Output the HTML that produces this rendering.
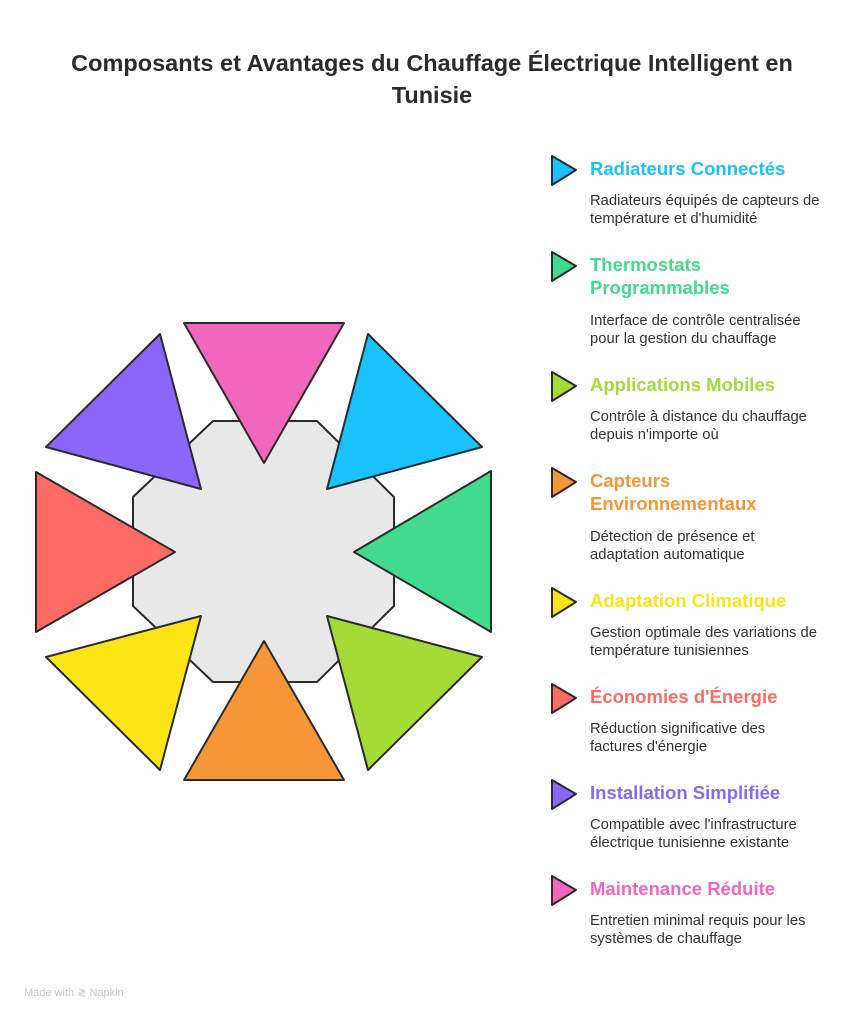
<!DOCTYPE html>
<html><head><meta charset="utf-8"><style>
body{margin:0;width:864px;height:1020px;background:#fff;position:relative;font-family:"Liberation Sans",sans-serif;overflow:hidden}
h1{position:absolute;left:0;width:864px;top:47px;margin:0;text-align:center;font-size:23.5px;line-height:32px;font-weight:bold;color:#2b2b2b}
.t{position:absolute;left:590px;font-size:18.5px;font-weight:bold;line-height:23px}
.d{position:absolute;left:590px;font-size:14.8px;line-height:18px;color:#333;width:270px}
.f{position:absolute;left:24px;top:986px;font-size:11px;color:#c8c8c8}
</style></head><body>
<h1>Composants et Avantages du Chauffage Électrique Intelligent en<br>Tunisie</h1>
<svg width="864" height="1020" style="position:absolute;left:0;top:0" stroke="#2b2b2b" stroke-width="2" stroke-linejoin="round">
<polygon points="213,421 317,421 394,497 394,606 317,682 213,682 133,606 133,497" fill="#e8e8e8"/>
<polygon points="184,323 344,323 264,463" fill="#f266bd"/>
<polygon points="368,334 482,447 327,489" fill="#1ac2fb"/>
<polygon points="491,471 491,632 354,552" fill="#42da8e"/>
<polygon points="482,657 368,770 327,616" fill="#a5da37"/>
<polygon points="344,780 184,780 264,641" fill="#f79637"/>
<polygon points="160,770 46,657 201,616" fill="#fde515"/>
<polygon points="36,472 36,632 175,552" fill="#fe6a64"/>
<polygon points="46,447 160,334 201,489" fill="#8967fb"/>
<g>
<polygon points="552,156 552,185 576,170" fill="#1ac2fb"/>
<polygon points="552,252 552,281 576,266" fill="#42da8e"/>
<polygon points="552,372 552,401 576,386" fill="#a5da37"/>
<polygon points="552,468 552,497 576,482" fill="#f79637"/>
<polygon points="552,588 552,617 576,602" fill="#fde515"/>
<polygon points="552,684 552,713 576,698" fill="#fe6a64"/>
<polygon points="552,780 552,809 576,794" fill="#8967fb"/>
<polygon points="552,876 552,905 576,890" fill="#f266bd"/>
</g>
</svg>
<div class="t" style="top:157px;color:#1ac2fb">Radiateurs Connectés</div>
<div class="d" style="top:192px">Radiateurs équipés de capteurs de<br>température et d'humidité</div>
<div class="t" style="top:253px;color:#42da8e">Thermostats<br>Programmables</div>
<div class="d" style="top:312px">Interface de contrôle centralisée<br>pour la gestion du chauffage</div>
<div class="t" style="top:373px;color:#a5da37">Applications Mobiles</div>
<div class="d" style="top:408px">Contrôle à distance du chauffage<br>depuis n'importe où</div>
<div class="t" style="top:469px;color:#f79637">Capteurs<br>Environnementaux</div>
<div class="d" style="top:528px">Détection de présence et<br>adaptation automatique</div>
<div class="t" style="top:589px;color:#fde515">Adaptation Climatique</div>
<div class="d" style="top:624px">Gestion optimale des variations de<br>température tunisiennes</div>
<div class="t" style="top:685px;color:#fe6a64">Économies d'Énergie</div>
<div class="d" style="top:720px">Réduction significative des<br>factures d'énergie</div>
<div class="t" style="top:781px;color:#8967fb">Installation Simplifiée</div>
<div class="d" style="top:816px">Compatible avec l'infrastructure<br>électrique tunisienne existante</div>
<div class="t" style="top:877px;color:#f266bd">Maintenance Réduite</div>
<div class="d" style="top:912px">Entretien minimal requis pour les<br>systèmes de chauffage</div>
<div class="f">Made with ≷ Napkin</div>
</body></html>
